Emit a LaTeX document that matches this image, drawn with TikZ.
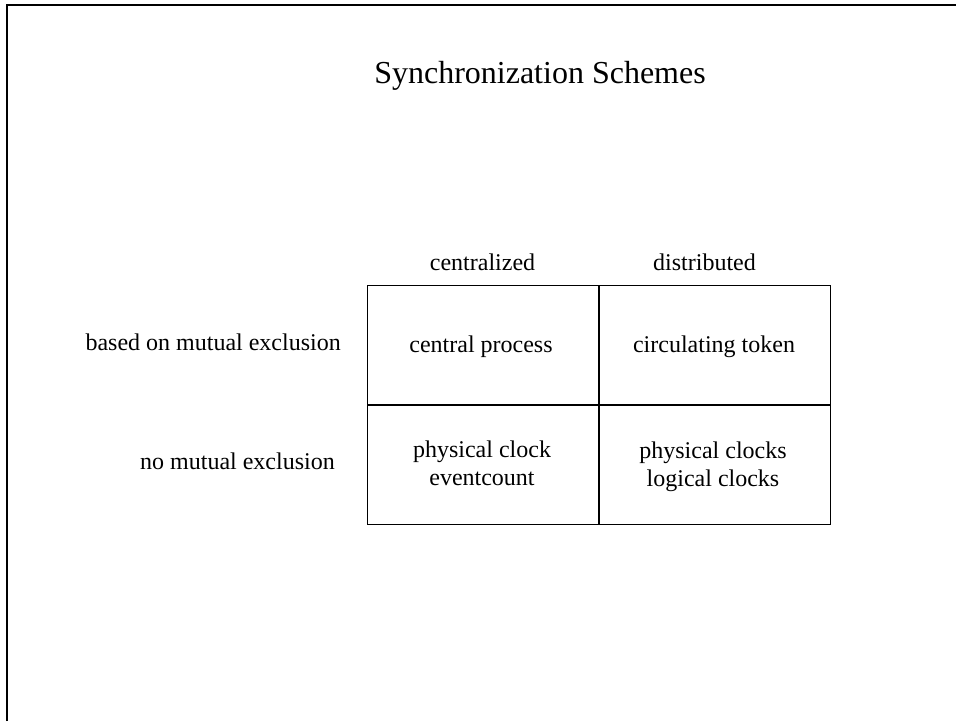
\documentclass[tikz,border=0pt]{standalone}
\usepackage{fontspec}
\setmainfont{Liberation Serif}
\begin{document}
\begin{tikzpicture}[x=1pt,y=-1pt,
  label/.style={inner sep=0pt,anchor=base,font=\fontsize{24}{28}\selectfont},
  cell/.style={draw,line width=1.5pt,minimum width=231.5pt,minimum height=119.5pt,inner sep=0pt},
  celltext/.style={inner sep=0pt,align=center,font=\fontsize{24}{28.5}\selectfont}]
\useasboundingbox (0,0) rectangle (956,721);
% slide frame
\draw[line width=2.4pt] (7,721) -- (7,5) -- (956,5);
% title
\node[inner sep=0pt,anchor=base,font=\fontsize{32}{38}\selectfont] (title) at (540,83) {Synchronization Schemes};
% column headings
\node[label] (hc) at (482.5,270) {centralized};
\node[label] (hd) at (704.5,270) {distributed};
% row headings
\node[label,anchor=base east] (rm) at (341,350) {based on mutual exclusion};
\node[label,anchor=base east] (rn) at (335,469) {no mutual exclusion};
% grid cells
\node[cell] (c11) at (483,345) {};
\node[cell] (c12) at (714.5,345) {};
\node[cell] (c21) at (483,464.5) {};
\node[cell] (c22) at (714.5,464.5) {};
% cell contents (base anchor sits on the last line)
\node[label] (t11) at (481,352) {central process};
\node[label] (t12) at (714,352) {circulating token};
\node[celltext,anchor=base] (t21) at (482,485.5) {physical clock\\eventcount};
\node[celltext,anchor=base] (t22) at (713,486.5) {physical clocks\\logical clocks};
\end{tikzpicture}
\end{document}
